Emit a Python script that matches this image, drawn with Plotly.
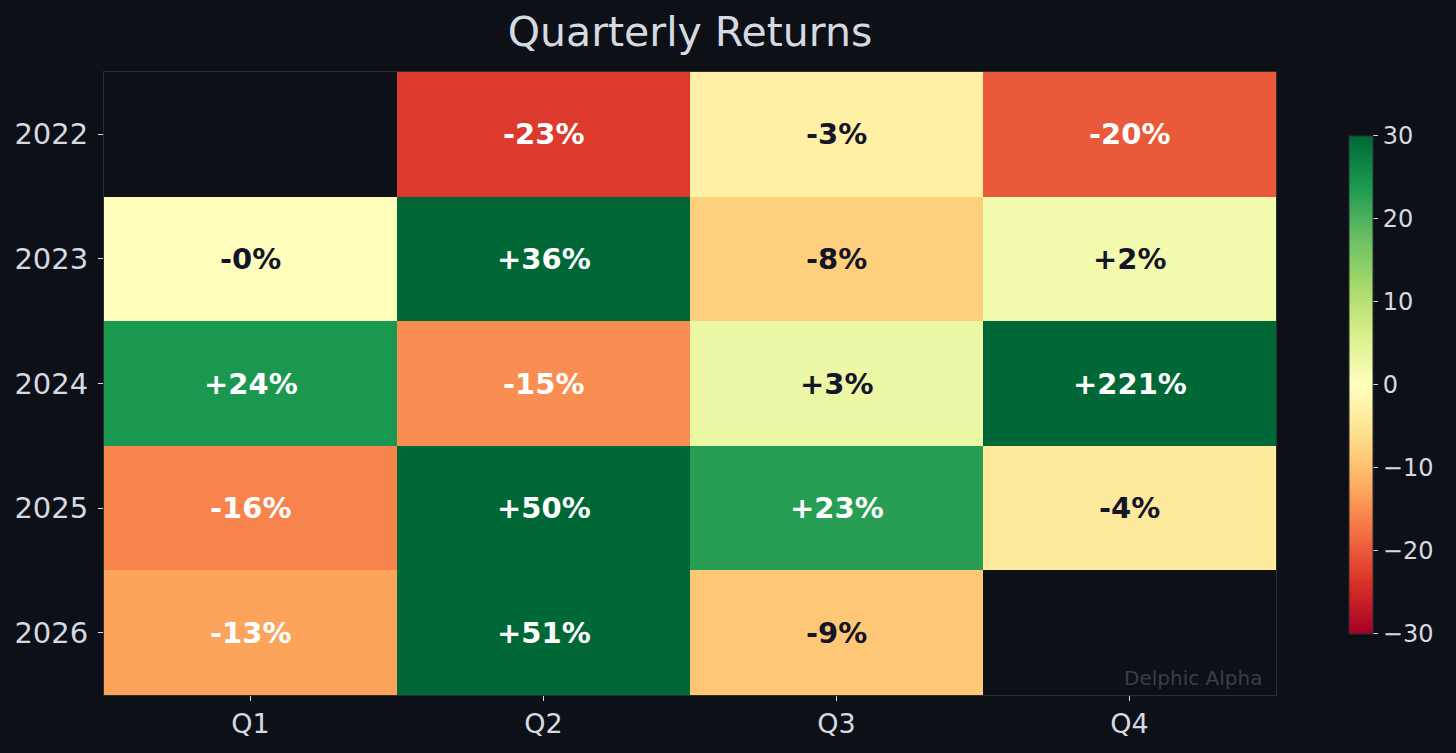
import plotly.graph_objects as go

years = ["2022", "2023", "2024", "2025", "2026"]
quarters = ["Q1", "Q2", "Q3", "Q4"]
returns = [
    [None, -23, -3, -20],
    [-0.3, 36, -8, 2],
    [24, -15, 3, 221],
    [-16, 50, 23, -4],
    [-13, 51, -9, None],
]

BG = "#0d1017"
TXT = "#d5d9e0"
FONT = "DejaVu Sans"

xi = list(range(len(quarters)))
yi = list(range(len(years)))

fig = go.Figure()
fig.add_trace(go.Heatmap(
    z=returns, x=xi, y=yi,
    colorscale="RdYlGn", zmin=-30, zmax=30,
    hoverongaps=False,
    colorbar=dict(
        x=1.0623, xanchor="left", xpad=0,
        y=0.498, yanchor="middle", ypad=0,
        len=0.80, lenmode="fraction", thickness=24,
        outlinecolor="#2a2e36", outlinewidth=1,
        tickvals=[-30, -20, -10, 0, 10, 20, 30],
        ticks="outside", ticklen=5, tickcolor=TXT,
        tickfont=dict(family=FONT, size=24, color=TXT),
    ),
))

for i in yi:
    for j in xi:
        v = returns[i][j]
        if v is None:
            continue
        col = "#ffffff" if abs(v) >= 10 else "#15152a"
        fig.add_annotation(x=j, y=i, text=f"<b>{v:+.0f}%</b>", showarrow=False,
                           font=dict(family=FONT, size=29, color=col))

fig.add_annotation(xref="paper", yref="paper", x=0.99, y=0.005, xanchor="right", yanchor="bottom",
                   text="Delphic Alpha", showarrow=False,
                   font=dict(family=FONT, size=20, color="#3a3f49"))

fig.update_layout(
    width=1456, height=753,
    paper_bgcolor=BG, plot_bgcolor=BG,
    margin=dict(l=104, r=180, t=72, b=58),
    title=dict(text="Quarterly Returns", x=(104 + 1276) / 2 / 1456, xanchor="center",
               y=1 - 32 / 753, yanchor="middle",
               font=dict(family=FONT, size=41, color=TXT)),
    xaxis=dict(range=[-0.5, len(quarters) - 0.5], tickvals=xi, ticktext=quarters,
               showgrid=False, zeroline=False, ticks="outside", ticklen=5,
               tickcolor=TXT, tickfont=dict(family=FONT, size=27, color=TXT),
               showline=True, linecolor="#2a2e36", mirror=True),
    yaxis=dict(range=[len(years) - 0.5, -0.5], tickvals=yi, ticktext=years,
               showgrid=False, zeroline=False,
               ticks="outside", ticklen=5, tickcolor=TXT, ticklabelstandoff=4,
               tickfont=dict(family=FONT, size=29, color=TXT),
               showline=True, linecolor="#2a2e36", mirror=True),
)

fig.write_html("out.html")
